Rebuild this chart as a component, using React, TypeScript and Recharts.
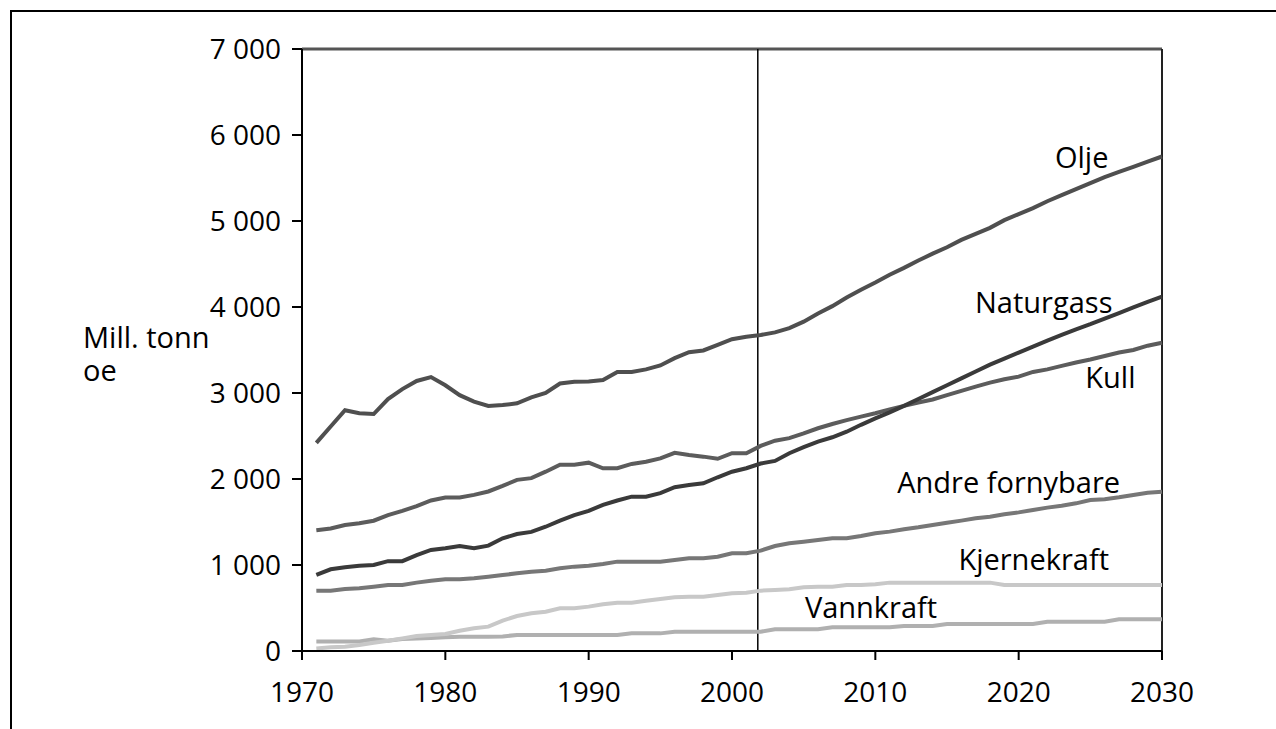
import React from "react";
import {
  LineChart,
  Line,
  XAxis,
  YAxis,
  ReferenceLine,
  ReferenceDot,
} from "recharts";

// years 1971-2030, million tonnes oil equivalent
const years = [
  1971, 1972, 1973, 1974, 1975, 1976, 1977, 1978, 1979, 1980,
  1981, 1982, 1983, 1984, 1985, 1986, 1987, 1988, 1989, 1990,
  1991, 1992, 1993, 1994, 1995, 1996, 1997, 1998, 1999, 2000,
  2001, 2002, 2003, 2004, 2005, 2006, 2007, 2008, 2009, 2010,
  2011, 2012, 2013, 2014, 2015, 2016, 2017, 2018, 2019, 2020,
  2021, 2022, 2023, 2024, 2025, 2026, 2027, 2028, 2029, 2030,
];

const olje = [
  2420, 2610, 2800, 2765, 2755, 2930, 3045, 3140, 3185, 3090,
  2975, 2900, 2850, 2860, 2880, 2950, 3000, 3110, 3130, 3135,
  3150, 3245, 3245, 3275, 3320, 3405, 3475, 3495, 3560, 3625,
  3655, 3675, 3705, 3755, 3830, 3925, 4010, 4110, 4200, 4285,
  4375, 4455, 4540, 4620, 4695, 4780, 4850, 4920, 5010, 5080,
  5150, 5230, 5300, 5370, 5440, 5510, 5570, 5630, 5690, 5750,
];

const naturgass = [
  885, 950, 975, 990, 1000, 1045, 1045, 1115, 1175, 1195,
  1220, 1195, 1225, 1310, 1360, 1385, 1445, 1515, 1580, 1630,
  1700, 1750, 1795, 1795, 1835, 1905, 1930, 1950, 2020, 2085,
  2125, 2180, 2210, 2300, 2370, 2435, 2485, 2550, 2630, 2705,
  2775, 2850, 2930, 3010, 3090, 3170, 3250, 3330, 3400, 3470,
  3540, 3610, 3675, 3740, 3800, 3865, 3930, 3995, 4060, 4120,
];

const kull = [
  1405, 1425, 1465, 1485, 1515, 1580, 1630, 1685, 1750, 1785,
  1785, 1815, 1855, 1920, 1990, 2010, 2085, 2165, 2165, 2190,
  2125, 2125, 2175, 2200, 2240, 2305, 2280, 2260, 2235, 2300,
  2300, 2385, 2445, 2475, 2530, 2590, 2640, 2685, 2725, 2765,
  2810, 2850, 2890, 2925, 2975, 3025, 3075, 3120, 3160, 3190,
  3245, 3275, 3315, 3355, 3390, 3430, 3470, 3500, 3550, 3585,
];

const andreFornybare = [
  700, 702, 720, 730, 748, 767, 767, 795, 818, 833,
  833, 845, 864, 884, 903, 922, 934, 961, 981, 992,
  1012, 1039, 1039, 1039, 1039, 1058, 1078, 1078, 1097, 1136,
  1136, 1167, 1221, 1252, 1271, 1291, 1310, 1310, 1337, 1368,
  1388, 1415, 1438, 1465, 1492, 1516, 1543, 1562, 1589, 1612,
  1640, 1667, 1690, 1717, 1756, 1764, 1787, 1814, 1841, 1853,
];

const kjernekraft = [
  30, 43, 50, 70, 97, 120, 147, 174, 186, 198,
  236, 264, 283, 353, 407, 438, 457, 496, 496, 516,
  543, 562, 562, 585, 605, 624, 632, 632, 651, 671,
  678, 702, 709, 717, 740, 748, 748, 767, 767, 775,
  795, 795, 795, 795, 795, 795, 795, 795, 767, 767,
  767, 767, 767, 767, 767, 767, 767, 767, 767, 767,
];

const vannkraft = [
  110, 110, 110, 110, 135, 118, 140, 145, 150, 160,
  165, 165, 165, 170, 186, 186, 186, 186, 186, 186,
  186, 186, 205, 205, 205, 225, 225, 225, 225, 225,
  225, 225, 252, 252, 252, 252, 275, 275, 275, 275,
  275, 291, 291, 291, 314, 314, 314, 314, 314, 314,
  314, 341, 341, 341, 341, 341, 368, 368, 368, 368,
];

const xTicks = [1970, 1980, 1990, 2000, 2010, 2020, 2030];
const yTicks = [0, 1000, 2000, 3000, 4000, 5000, 6000, 7000];

// base year marker
const baseYear = 2001.8;

const series = [
  { key: "vannkraft", name: "Vannkraft", color: "#b0b0b0" },
  { key: "kjernekraft", name: "Kjernekraft", color: "#c8c8c8" },
  { key: "andre", name: "Andre fornybare", color: "#777777" },
  { key: "kull", name: "Kull", color: "#5c5c5c" },
  { key: "naturgass", name: "Naturgass", color: "#3a3a3a" },
  { key: "olje", name: "Olje", color: "#4f4f4f" },
];

// where the series names sit (year, value of the text centre)
const labels = [
  { text: "Olje", year: 2024.4, value: 5733 },
  { text: "Naturgass", year: 2021.75, value: 4047 },
  { text: "Kull", year: 2026.4, value: 3174 },
  { text: "Andre fornybare", year: 2019.3, value: 1959 },
  { text: "Kjernekraft", year: 2021.05, value: 1058 },
  { text: "Vannkraft", year: 2009.7, value: 500 },
];

const data = years.map((year, i) => ({
  year,
  olje: olje[i],
  naturgass: naturgass[i],
  kull: kull[i],
  andre: andreFornybare[i],
  kjernekraft: kjernekraft[i],
  vannkraft: vannkraft[i],
}));

const FONT = "'Open Sans', 'Noto Sans', sans-serif";

const fmt = (v: number) => String(v).replace(/\B(?=(\d{3})+(?!\d))/g, " ");

const unitStyle: React.CSSProperties = {
  position: "absolute",
  left: 83,
  fontSize: 29,
  lineHeight: "28px",
  color: "#000",
  whiteSpace: "nowrap",
};

export default function App() {
  return (
    <div
      style={{
        position: "fixed",
        left: 0,
        top: 0,
        width: 1276,
        height: 729,
        background: "#fff",
        fontFamily: FONT,
        overflow: "hidden",
      }}
    >
      <div
        style={{
          position: "absolute",
          left: 10,
          top: 10,
          right: -4,
          bottom: -4,
          borderTop: "2px solid #000",
          borderLeft: "2px solid #000",
        }}
      />
      <div style={{ ...unitStyle, top: 323 }}>Mill. tonn</div>
      <div style={{ ...unitStyle, top: 356 }}>oe</div>
      <div style={{ position: "absolute", left: 0, top: 0 }}>
        <LineChart
          width={1276}
          height={729}
          data={data}
          margin={{ top: 49, right: 114, left: 202, bottom: 38 }}
        >
          <XAxis
            dataKey="year"
            type="number"
            domain={[1970, 2030]}
            ticks={xTicks}
            interval={0}
            height={40}
            tickSize={9}
            tickMargin={22}
            axisLine={{ stroke: "#000", strokeWidth: 2 }}
            tickLine={{ stroke: "#000", strokeWidth: 2 }}
            tick={{ fontSize: 28, fill: "#000", fontFamily: FONT }}
          />
          <YAxis
            type="number"
            domain={[0, 7000]}
            ticks={yTicks}
            interval={0}
            width={100}
            tickSize={10}
            tickMargin={11}
            tickFormatter={fmt}
            axisLine={{ stroke: "#000", strokeWidth: 2 }}
            tickLine={{ stroke: "#000", strokeWidth: 2 }}
            tick={{ fontSize: 28, fill: "#000", fontFamily: FONT }}
          />
          <ReferenceLine y={7000} stroke="#555" strokeWidth={3} />
          <ReferenceLine x={2030} stroke="#222" strokeWidth={2} />
          <ReferenceLine x={baseYear} stroke="#000" strokeWidth={1.5} />
          {series.map((s) => (
            <Line
              key={s.key}
              type="linear"
              dataKey={s.key}
              name={s.name}
              stroke={s.color}
              strokeWidth={4}
              dot={false}
              activeDot={false}
              isAnimationActive={false}
            />
          ))}
          {labels.map((l) => (
            <ReferenceDot
              key={l.text}
              x={l.year}
              y={l.value}
              r={0}
              fill="none"
              stroke="none"
              label={{
                value: l.text,
                position: "center",
                fontSize: 29,
                fill: "#000",
                fontFamily: FONT,
              }}
            />
          ))}
        </LineChart>
      </div>
    </div>
  );
}
